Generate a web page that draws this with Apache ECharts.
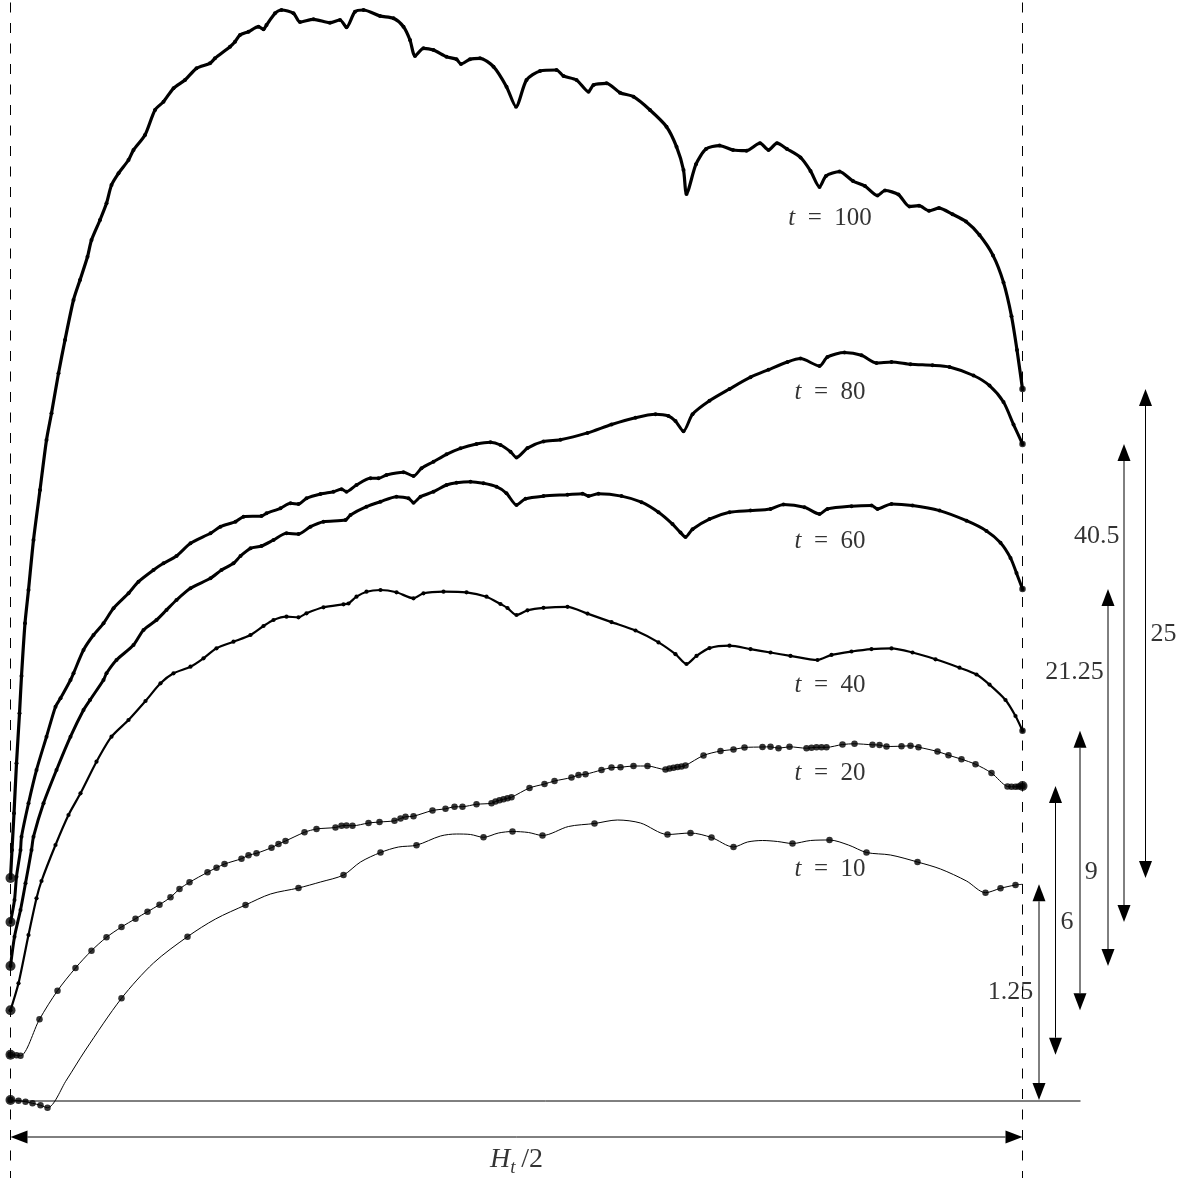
<!DOCTYPE html>
<html><head><meta charset="utf-8">
<script src="https://cdn.jsdelivr.net/npm/echarts@6/dist/echarts.min.js"></script>
<style>html,body{margin:0;padding:0;background:#fff}#c{width:1188px;height:1178px}</style>
</head><body><div id="c"></div>
<script>
// x: position along the half period (0 .. HALF = H_t/2), y: height above baseline (arbitrary units)
const HALF = 1012;

const t100X = [0,1.5,3.5,6,9,11,14.5,18,23,29.5,36,41,48,54.5,63,69.5,77,81,89.5,96,101,108,118,123,134.5,144.5,153,163,174.5,186,199.5,204.5,219.5,224.5,229.5,238,248,253,256,264.5,271,283,289.5,303,319.5,329.5,336,344.5,353,369.5,383,393,399.5,404.5,413,423,436,446,450.5,459.5,469.5,483,496,505.5,516,529.5,546,553,566,578,583,596,609.5,623,639.5,656,666,673,676,685.5,695.5,709,722.5,736,749.5,758,766.5,776.5,790,800,809,815.5,829,842.5,854.5,867,874.5,888,899,908.5,918.5,928.5,942,955.5,969,982.5,993,1001,1006.5,1012];
const t100Y = [22.3,25.1,28.77,33.77,38.77,42.5,47.77,51.1,56.1,61.1,66.1,68.77,72.77,76.1,80.1,82.1,84.43,86.1,88.1,89.77,91.6,92.77,94.1,95.1,96.6,99.1,99.93,101.27,102.1,103.27,103.77,104.27,105.43,105.93,106.6,106.93,107.43,107.17,107.6,108.77,109.1,108.77,107.9,108.17,107.83,108.1,107.37,108.93,109.1,108.5,108.27,107.43,106.1,104.5,105.27,105.1,104.43,104.17,103.7,104.17,104.27,103.43,101.43,99.43,102.1,103.0,103.1,102.5,102.1,100.93,101.6,101.77,100.83,100.43,99.1,97.43,95.43,93.1,90.7,93.68,95.2,95.54,95.1,95.03,95.78,95.1,95.78,95.2,94.36,93.01,91.4,92.5,92.94,91.99,91.49,90.55,91.05,90.64,89.45,89.53,89.02,89.29,88.68,87.94,86.59,84.56,81.86,78.48,75.1,71.2];

const t80X = [0,4,6,10,11,18,26,36,45,50,60,63,73,83,93,103,118,128,143,153,166,180,200,210,225,233,251,256,270,280,288,296,310,323,331,336,346,360,368,376,393,403,411,423,436,450,466,480,490,500,506,517,533,550,577,601,625,645,658,665,673,682,699,719,740,758,777,790,809,817,834,851,866,881,900,922,939,963,979,993,1003,1012];
const t80Y = [17.9,20.1,22.43,25.1,26.43,29.77,33.1,36.43,39.43,40.27,42.1,42.77,45.1,46.6,47.77,49.27,50.77,51.93,53.1,53.77,54.5,55.77,56.77,57.43,57.93,58.43,58.5,58.77,59.27,59.77,59.7,60.27,60.7,60.93,61.17,60.93,61.6,62.27,62.27,62.6,62.87,62.5,63.27,63.93,64.67,65.27,65.7,65.87,65.6,64.93,64.35,65.29,65.96,66.13,66.81,67.65,68.33,68.67,68.5,67.99,66.98,68.67,70.02,71.2,72.38,73.13,73.9,74.24,73.5,74.41,74.85,74.58,73.8,73.9,73.67,73.57,73.4,72.55,71.54,69.9,67.65,65.7];

const t60X = [0,4,10,15,21,23,33,46,60,73,79.5,93,96,106,123,133,146,156,166,180,200,211,223,230,240,251,263,276,288,300,313,335,340,356,370,386,398,403,410,423,436,446,460,473,486,496,506,515,533,557,572,578,588,611,631,648,662,670,675,682,699,719,740,760,773,794,809,817,841,861,867,881,902,929,956,976,990,1000,1006,1012];
const t60Y = [13.5,16.43,19.1,21.77,25.1,26.43,29.77,33.1,36.43,39.1,40.1,42.1,42.77,44.1,45.6,47.1,48.1,49.1,50.1,51.27,52.27,53.1,53.77,54.5,55.27,55.5,56.1,56.77,56.7,57.43,57.93,58.1,58.6,59.43,59.93,60.43,60.27,59.83,60.43,60.93,61.6,61.83,61.93,61.77,61.43,60.77,59.6,60.22,60.49,60.63,60.73,60.49,60.73,60.49,59.88,58.87,57.69,56.84,56.4,57.18,58.19,58.87,59.04,59.21,59.65,59.38,58.7,59.21,59.48,59.55,59.21,59.71,59.55,59.04,58.03,57.01,55.83,54.31,52.79,51.2];

const t40X = [0,8,18,26,31,45,58,70,86,101,118,135,150,163,180,193,206,223,240,253,263,276,288,296,313,333,338,346,356,370,386,403,413,433,456,476,490,497,506,517,533,557,577,601,625,648,665,676,686,699,719,740,760,780,807,821,841,861,881,902,925,949,966,979,995,1005,1012];
const t40Y = [9.07,11.77,16.6,20.27,22.0,25.6,28.6,30.77,33.93,36.43,38.1,40.0,41.77,42.77,43.43,44.27,45.27,45.93,46.6,47.5,48.1,48.43,48.37,48.77,49.37,49.67,49.75,50.43,50.93,51.1,50.87,50.27,50.77,50.93,50.87,50.43,49.7,49.3,48.6,49.07,49.32,49.42,48.74,47.89,47.05,45.86,44.68,43.7,44.51,45.29,45.53,45.19,44.85,44.51,44.1,44.61,44.95,45.19,45.26,44.85,44.17,43.33,42.65,41.64,40.1,38.5,37.03];

const t20X = [0,6,10,29,47,65,81,96,111,125,137,149,160,169,179,197,206,214,231,238,246,261,268,275,294,306,325,331,336,342,358,369,384,390,395,403,422,435,444,452,466,481,485,489,493,497,501,519,534,544,561,568,575,591,601,610,623,637,655,659,663,667,671,675,693,710,723,734,752,760,768,779,796,801,806,811,816,832,844,862,869,876,891,900,908,927,938,951,965,981,997,1001,1005,1008,1012];
const t20Y = [4.63,4.57,4.53,8.17,11.03,13.3,15.03,16.37,17.4,18.23,18.93,19.63,20.37,21.2,21.87,22.87,23.33,23.7,24.23,24.57,24.77,25.33,25.7,26.0,26.87,27.2,27.35,27.52,27.55,27.52,27.8,27.9,28.02,28.25,28.42,28.48,29.05,29.22,29.42,29.43,29.67,29.77,29.95,30.07,30.17,30.27,30.37,31.3,31.7,32.0,32.35,32.6,32.67,33.1,33.34,33.37,33.5,33.5,33.15,33.25,33.33,33.4,33.45,33.55,34.55,35.0,35.15,35.35,35.4,35.42,35.28,35.42,35.28,35.33,35.37,35.37,35.37,35.65,35.72,35.62,35.59,35.45,35.48,35.52,35.38,34.95,34.58,34.18,33.67,32.8,31.45,31.42,31.42,31.45,31.5];

// t = 10: sampled (marked) points and unmarked points along the arcs
const t10MarkX = [0,8,15,22,30,37,111,177,235,288,333,370,406,473,502,532,584,657,680,701,723,782,819,856,907,975,990,1005];
const t10MarkY = [0.1,0.03,-0.07,-0.23,-0.43,-0.67,10.27,16.43,19.6,21.3,22.6,24.85,25.58,26.37,26.95,26.55,27.75,26.65,26.8,26.35,25.4,25.75,26.1,24.85,23.9,20.83,21.27,21.6];
const t10ArcX = [56,75,143,205,260,310,350,388,430,446,460,488,518,558,607,630,737,752,767,800,838,880,930,956,1012];
const t10ArcY = [2.1,5.1,13.8,18.2,20.7,21.9,23.9,25.4,26.5,26.7,26.65,26.8,26.85,27.45,28.1,27.8,25.9,26.05,25.95,26.05,25.6,24.6,23.2,22.0,21.67];

const curveTimes = ['100','80','60','40','20','10'];
const curveLabelX = [819.5,819.5,819.5,819.5,819.5,819.5];
const curveLabelY = [88.3,70.9,56.0,41.6,32.8,23.2];

// vertical arrows (left-end to right-end height of each curve, t = 10 first)
const arrowLabels = ['1.25','6','9','21.25','40.5','25'];
const arrowX = [1028.5,1045,1069.5,1097.5,1113.5,1135];
const arrowLabelX = [1000,1056.5,1080.8,1064,1086.2,1153];
const arrowLabelY = [10.9,17.9,22.9,42.9,56.5,46.7];
const bottomArrowY = -3.6;
const baselineEnd = 1070;

const zip = (xs, ys) => xs.map((x, i) => [x, ys[i]]);
const t10Path = zip(t10MarkX.concat(t10ArcX), t10MarkY.concat(t10ArcY)).sort((a, b) => a[0] - b[0]);
const curves = [zip(t100X,t100Y), zip(t80X,t80Y), zip(t60X,t60Y), zip(t40X,t40Y), zip(t20X,t20Y), t10Path];

const FONT = "'Liberation Serif', 'Times New Roman', serif";
const BLACK = '#000';

const lineS = (data, width, symSize, smooth) => ({
  type: 'line', data, smooth: smooth, clip: false, silent: true,
  symbol: symSize ? 'circle' : 'none', showSymbol: !!symSize, symbolSize: symSize || 0,
  itemStyle: { color: BLACK }, lineStyle: { color: BLACK, width }, z: 2
});
const dotS = (data, size) => ({
  type: 'scatter', data, symbolSize: size, clip: false, silent: true,
  itemStyle: { color: BLACK }, z: 4
});

// segments: [x0, y0, x1, y1, kind] kind 0 = plain, 1 = dashed, 2 = double arrow
const segData = [
  [0, -8, 0, 111, 1],
  [HALF, -8, HALF, 111, 1],
  [0, 0, baselineEnd, 0, 0]
];
arrowX.forEach((x, i) => {
  const c = curves[5 - i];
  segData.push([x, c[0][1], x, c[c.length - 1][1], 2]);
});
segData.push([0, bottomArrowY, HALF, bottomArrowY, 2]);

const textData = curveTimes.map((s, i) => ({ value: [curveLabelX[i], curveLabelY[i]], name: '{i|t}\u2002=\u2002' + s }))
  .concat(arrowLabels.map((s, i) => ({ value: [arrowLabelX[i], arrowLabelY[i]], name: '{n|' + s + '}' })))
  .concat([{ value: [506, -6.7], name: '{h|H}{s|t}{m|\u2009/2}' }]);

const option = {
  animation: false,
  grid: { left: 10.5, top: 1, width: HALF, height: 1100 },
  xAxis: { type: 'value', min: 0, max: HALF, show: false },
  yAxis: { type: 'value', min: 0, max: 110, show: false },
  series: [
    {
      type: 'custom', coordinateSystem: 'cartesian2d', silent: true, clip: false, data: segData, z: 1,
      renderItem: (params, api) => {
        const p0 = api.coord([api.value(0), api.value(1)]);
        const p1 = api.coord([api.value(2), api.value(3)]);
        const kind = api.value(4);
        if (kind !== 2) {
          return { type: 'line', shape: { x1: p0[0], y1: p0[1], x2: p1[0], y2: p1[1] },
            style: { stroke: BLACK, lineWidth: 1, lineDash: kind === 1 ? [10, 10.5] : null } };
        }
        const dx = p1[0] - p0[0], dy = p1[1] - p0[1], L = Math.hypot(dx, dy);
        const ux = dx / L, uy = dy / L, nx = -uy, ny = ux, HL = 17, HW = 6.5;
        const a0 = [p0[0] + ux * HL, p0[1] + uy * HL], a1 = [p1[0] - ux * HL, p1[1] - uy * HL];
        return { type: 'group', children: [
          { type: 'line', shape: { x1: a0[0], y1: a0[1], x2: a1[0], y2: a1[1] }, style: { stroke: BLACK, lineWidth: 1 } },
          { type: 'polygon', shape: { points: [p0, [a0[0] + nx * HW, a0[1] + ny * HW], [a0[0] - nx * HW, a0[1] - ny * HW]] }, style: { fill: BLACK } },
          { type: 'polygon', shape: { points: [p1, [a1[0] + nx * HW, a1[1] + ny * HW], [a1[0] - nx * HW, a1[1] - ny * HW]] }, style: { fill: BLACK } }
        ] };
      }
    },
    lineS(curves[0], 3.2, 4, 0.25),
    lineS(curves[1], 3, 4, 0.25),
    lineS(curves[2], 3, 4, 0.25),
    lineS(curves[3], 2.2, 4.2, 0.25),
    lineS(curves[4], 1, 0, 0.3),
    lineS(curves[5], 1, 0, 0.3),
    dotS(zip(t20X, t20Y), 6.5),
    dotS(zip(t10MarkX, t10MarkY), 6.5),
    dotS(curves.map(c => c[0]), 10),
    dotS(curves.slice(0, 4).map(c => c[c.length - 1]), 6.5),
    dotS([curves[4][curves[4].length - 1]], 10),
    {
      type: 'scatter', data: textData, symbolSize: 0, clip: false, silent: true, z: 6,
      label: {
        show: true, position: 'inside', formatter: p => p.name, color: BLACK,
        fontFamily: FONT, fontSize: 25, align: 'center', verticalAlign: 'middle',
        rich: {
          i: { fontFamily: FONT, fontSize: 25, fontStyle: 'italic', color: BLACK },
          n: { fontFamily: FONT, fontSize: 26, color: BLACK },
          h: { fontFamily: FONT, fontSize: 28, fontStyle: 'italic', color: BLACK, lineHeight: 28, verticalAlign: 'top' },
          m: { fontFamily: FONT, fontSize: 28, color: BLACK, lineHeight: 28, verticalAlign: 'top' },
          s: { fontFamily: FONT, fontSize: 19, fontStyle: 'italic', color: BLACK, lineHeight: 44, verticalAlign: 'middle' }
        }
      }
    }
  ]
};
const chart = echarts.init(document.getElementById('c'));
chart.setOption(option);
</script>
</body></html>
